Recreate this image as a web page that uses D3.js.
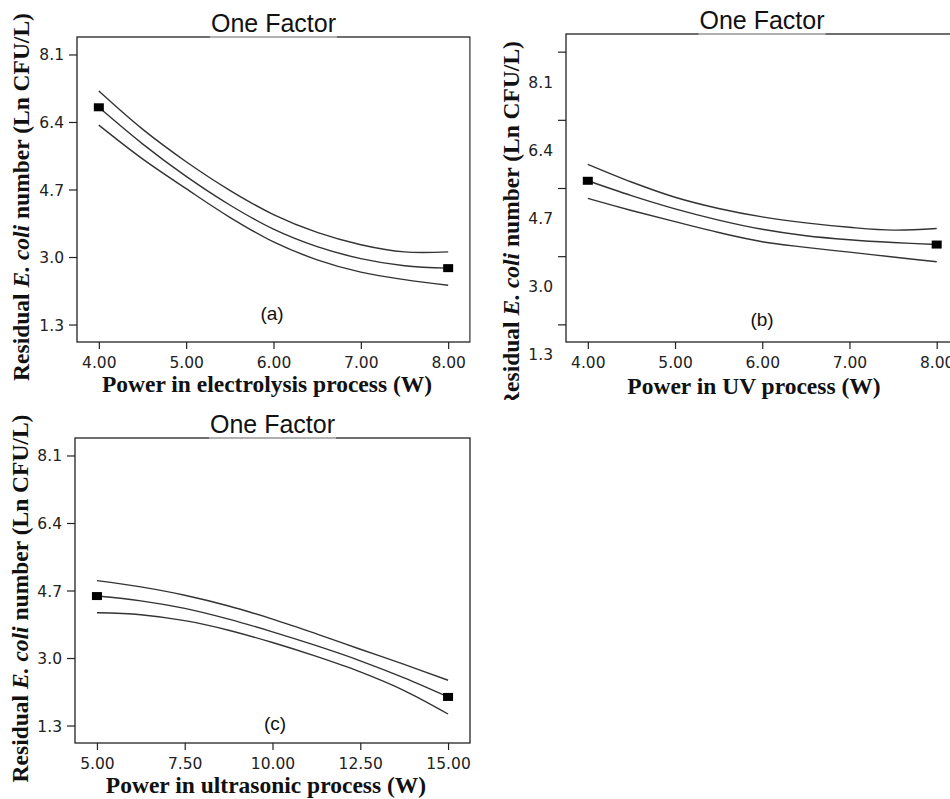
<!DOCTYPE html>
<html>
<head>
<meta charset="utf-8">
<script src="https://cdn.jsdelivr.net/npm/d3@7/dist/d3.min.js"></script>
<style>
  html, body { margin: 0; padding: 0; background: #fff; }
  svg { display: block; }
</style>
</head>
<body>
<svg id="chart" width="950" height="799"></svg>
<script>
// values
const yTicks = [1.3, 3.0, 4.7, 6.4, 8.1];
const yDomain = [0.86, 8.54];

const powerElec = [4, 4.5, 5, 5.5, 6, 6.5, 7, 7.5, 8];
const elecMean = [6.77, 5.85, 5.03, 4.31, 3.70, 3.26, 2.96, 2.78, 2.72];
const elecUpper = [7.18, 6.22, 5.40, 4.68, 4.07, 3.62, 3.31, 3.13, 3.13];
const elecLower = [6.32, 5.47, 4.72, 4.00, 3.38, 2.93, 2.62, 2.43, 2.29];
const elecDesignX = [4, 8];
const elecDesignY = [6.77, 2.72];
const elecTicks = [4, 5, 6, 7, 8];

const powerUv = [4, 4.5, 5, 5.5, 6, 6.5, 7, 7.5, 8];
const uvMean = [4.88, 4.51, 4.18, 3.90, 3.67, 3.51, 3.41, 3.34, 3.29];
const uvUpper = [5.29, 4.85, 4.47, 4.19, 3.98, 3.83, 3.72, 3.65, 3.69];
const uvLower = [4.44, 4.14, 3.86, 3.59, 3.36, 3.22, 3.10, 2.98, 2.86];
const uvDesignX = [4, 8];
const uvDesignY = [4.88, 3.29];
const uvTicks = [4, 5, 6, 7, 8];

const powerUs = [5, 6.25, 7.5, 8.75, 10, 11.25, 12.5, 13.75, 15];
const usMean = [4.56, 4.44, 4.25, 3.98, 3.66, 3.31, 2.93, 2.50, 2.02];
const usUpper = [4.95, 4.79, 4.58, 4.31, 3.98, 3.61, 3.22, 2.84, 2.44];
const usLower = [4.14, 4.09, 3.94, 3.70, 3.39, 3.04, 2.65, 2.18, 1.59];
const usDesignX = [5, 15];
const usDesignY = [4.56, 2.02];
const usTicks = [5, 7.5, 10, 12.5, 15];

const svg = d3.select('#chart');
const serif = '"Liberation Serif", "Times New Roman", serif';
const sans = '"Liberation Sans", Arial, sans-serif';
const tickFont = '"DejaVu Sans", sans-serif';
const ink = '#222';

function drawPanel(opt) {
  const g = svg.append('g');
  if (opt.clip) {
    const id = 'clip-' + opt.tag;
    svg.append('clipPath').attr('id', id)
      .append('rect').attr('x', opt.clip[0]).attr('y', opt.clip[1])
      .attr('width', opt.clip[2]).attr('height', opt.clip[3]);
    g.attr('clip-path', `url(#${id})`);
  }

  const x = d3.scaleLinear().domain(opt.xDomain).range([opt.x0, opt.x1]);
  const y = d3.scaleLinear().domain(yDomain).range([opt.y1, opt.y0]);

  // frame
  g.append('rect')
    .attr('x', opt.x0).attr('y', opt.y0)
    .attr('width', opt.x1 - opt.x0).attr('height', opt.y1 - opt.y0)
    .attr('fill', 'none').attr('stroke', ink).attr('stroke-width', 1.3);

  // y axis
  const ya = g.append('g')
    .attr('transform', `translate(${opt.x0},0)`)
    .call(d3.axisLeft(y).tickValues(yTicks).tickSize(8).tickPadding(5)
      .tickFormat(d3.format('.1f')));
  ya.select('.domain').remove();
  ya.selectAll('line').attr('stroke', ink).attr('stroke-width', 1.2);
  ya.selectAll('text')
    .attr('font-family', tickFont).attr('font-size', 15.5).attr('fill', ink)
    .attr('dy', (opt.labelShift || 0) + 5.5);

  // x axis
  const xa = g.append('g')
    .attr('transform', `translate(0,${opt.y1})`)
    .call(d3.axisBottom(x).tickValues(opt.xTicks).tickSize(7).tickPadding(0)
      .tickFormat(d3.format('.2f')));
  xa.select('.domain').remove();
  xa.selectAll('line').attr('stroke', ink).attr('stroke-width', 1.2);
  xa.selectAll('text')
    .attr('font-family', tickFont).attr('font-size', 15.5).attr('fill', ink)
    .attr('y', 0).attr('dy', 25.5);

  // confidence band and prediction curves
  const line = d3.line()
    .x(d => x(d[0])).y(d => y(d[1]))
    .curve(d3.curveCatmullRom.alpha(0.5));
  [opt.upper, opt.mean, opt.lower].forEach((vals) => {
    g.append('path')
      .datum(opt.xs.map((v, i) => [v, vals[i]]))
      .attr('d', line)
      .attr('fill', 'none').attr('stroke', '#333').attr('stroke-width', 1.4);
  });

  // design points
  g.selectAll('rect.pt')
    .data(opt.dx.map((v, i) => [v, opt.dy[i]]))
    .enter().append('rect')
    .attr('class', 'pt')
    .attr('x', d => x(d[0]) - 5).attr('y', d => y(d[1]) - 4)
    .attr('width', 10).attr('height', 8)
    .attr('fill', '#000');

  // title over the top edge, the edge shows lighter under it
  const cx = (opt.x0 + Math.min(opt.x1, 958)) / 2;
  const title = g.append('text')
    .attr('x', cx).attr('y', opt.y0 - 5.5)
    .attr('text-anchor', 'middle')
    .attr('font-family', sans).attr('font-size', 25).attr('fill', '#111')
    .text('One Factor');
  const tw = title.node().getComputedTextLength();
  g.append('rect')
    .attr('x', cx - tw / 2 - 1).attr('y', opt.y0 - 1.5)
    .attr('width', tw + 2).attr('height', 3)
    .attr('fill', '#fff').attr('opacity', 0.45);

  // panel tag
  g.append('text')
    .attr('x', opt.tagX).attr('y', opt.tagY)
    .attr('text-anchor', 'middle').attr('dominant-baseline', 'central')
    .attr('font-family', sans).attr('font-size', 19).attr('fill', '#111')
    .text(`(${opt.tag})`);

  // axis titles
  g.append('text')
    .attr('x', opt.xTitleX).attr('y', opt.y1 + opt.xTitleDy)
    .attr('text-anchor', 'middle')
    .attr('font-family', serif).attr('font-weight', 'bold')
    .attr('font-size', 23.5).attr('fill', '#111')
    .text(opt.xTitle);

  const yt = g.append('text')
    .attr('transform', `translate(${opt.yTitleX},${opt.yTitleY}) rotate(-90)`)
    .attr('text-anchor', 'middle').attr('dominant-baseline', 'central')
    .attr('font-family', serif).attr('font-weight', 'bold')
    .attr('font-size', 23.5).attr('fill', '#111');
  yt.append('tspan').text('Residual ');
  yt.append('tspan').attr('font-style', 'italic').text('E. coli');
  yt.append('tspan').text(' number (Ln CFU/L)');
}

drawPanel({
  tag: 'a', x0: 77, x1: 470, y0: 37, y1: 342,
  xDomain: [3.75, 8.25], xTicks: elecTicks,
  xs: powerElec, mean: elecMean, upper: elecUpper, lower: elecLower,
  dx: elecDesignX, dy: elecDesignY,
  tagX: 272, tagY: 313,
  xTitle: 'Power in electrolysis process (W)', xTitleX: 267, xTitleDy: 50,
  yTitleX: 21, yTitleY: 197,
  clip: [0, 0, 470.7, 400],
});

drawPanel({
  tag: 'b', x0: 566, x1: 958.5, y0: 34, y1: 342,
  xDomain: [3.75, 8.25], xTicks: uvTicks,
  xs: powerUv, mean: uvMean, upper: uvUpper, lower: uvLower,
  dx: uvDesignX, dy: uvDesignY,
  tagX: 762, tagY: 319.5, labelShift: 30,
  xTitle: 'Power in UV process (W)', xTitleX: 754, xTitleDy: 52,
  yTitleX: 511, yTitleY: 225,
  clip: [471.5, 0, 478.5, 400],
});

drawPanel({
  tag: 'c', x0: 75, x1: 470, y0: 438, y1: 743,
  xDomain: [4.375, 15.625], xTicks: usTicks,
  xs: powerUs, mean: usMean, upper: usUpper, lower: usLower,
  dx: usDesignX, dy: usDesignY,
  tagX: 275, tagY: 723.5,
  xTitle: 'Power in ultrasonic process (W)', xTitleX: 266, xTitleDy: 50,
  yTitleX: 20, yTitleY: 598.5,
});
</script>
</body>
</html>
